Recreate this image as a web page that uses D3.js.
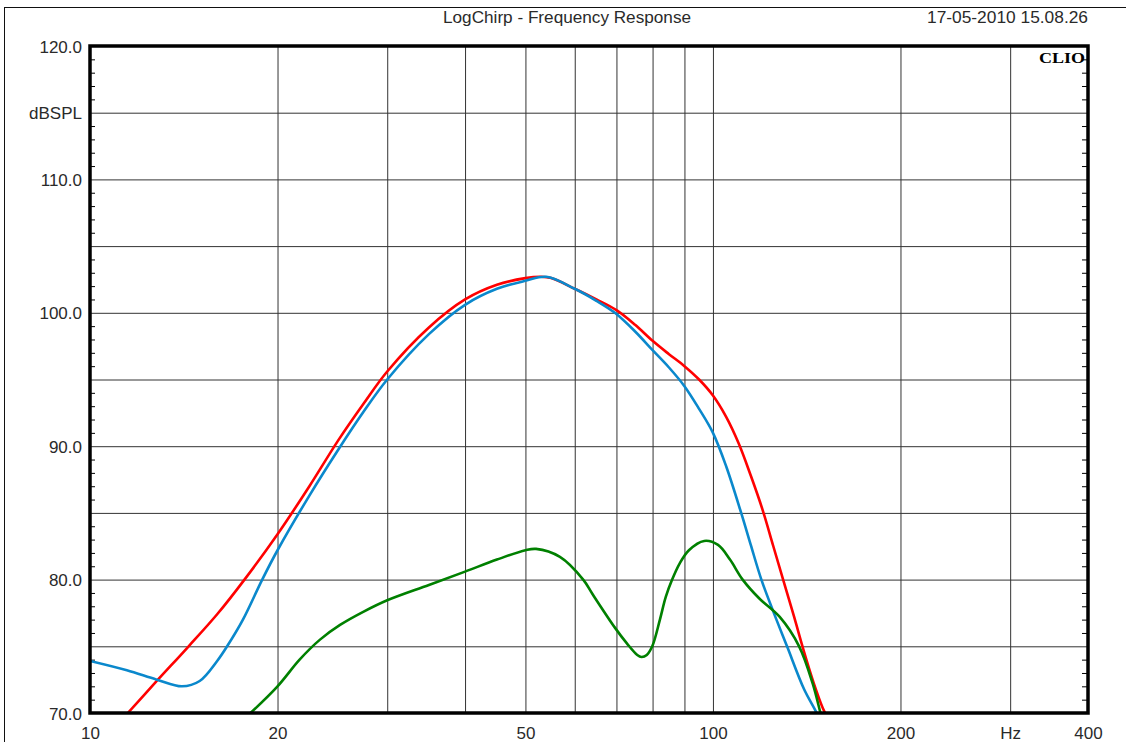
<!DOCTYPE html>
<html>
<head>
<meta charset="utf-8">
<script src="https://cdn.jsdelivr.net/npm/d3@7"></script>
<style>
  body { margin: 0; background: #fff; }
  svg { display: block; }
  text { font-family: "Liberation Sans", Arial, sans-serif; fill: #2a2a2a; }
  .grid line { stroke: #333; stroke-width: 1; }
  .grid path { display: none; }
  .minor line { stroke: #000; stroke-width: 1; }
  .minor path { display: none; }
  .curve { fill: none; stroke-width: 2.6; stroke-linejoin: round; }
</style>
</head>
<body>
<script>
// ---- data ----
var xTickLabels = ["10", "20", "50", "100", "200", "Hz", "400"];
var xTickFreqs  = [10, 20, 50, 100, 200, 300, 400];
var xGridFreqs  = [20, 30, 40, 50, 60, 70, 80, 90, 100, 200, 300];
var yTickValues = [120, 115, 110, 100, 90, 80, 70];
var yTickLabels = ["120.0", "dBSPL", "110.0", "100.0", "90.0", "80.0", "70.0"];

var redFreq = [11.5, 12.8, 14.4, 16, 17.7, 20, 22.5, 25, 27.5, 30, 35, 40, 45, 50, 53, 55, 60, 65, 70, 75, 80, 85, 90, 95, 100, 105, 110, 115, 120, 125, 130, 135, 140, 145, 150, 153];
var redDb   = [70, 72.4, 75.0, 77.4, 80, 83.4, 87, 90.4, 93.2, 95.6, 98.9, 101.0, 102.1, 102.6, 102.7, 102.6, 101.8, 101.0, 100.2, 99.1, 97.9, 96.9, 96.0, 95.0, 93.8, 92.2, 90.2, 87.8, 85.3, 82.5, 79.8, 77.2, 74.6, 72.3, 70.4, 69.6];

var blueFreq = [10, 11.46, 12.8, 14.05, 15, 16, 16.6, 17.6, 18.9, 20, 22.5, 25, 27.5, 30, 35, 40, 45, 50, 54, 60, 65, 69.6, 75, 80, 85, 90, 95, 100, 105, 111, 115, 119.6, 125, 131.5, 140, 146.7, 148];
var blueDb   = [73.9, 73.2, 72.5, 72.0, 72.4, 73.9, 75.0, 77.0, 80, 82.2, 86.3, 89.7, 92.6, 95.0, 98.4, 100.6, 101.8, 102.4, 102.7, 101.8, 100.9, 100.0, 98.6, 97.2, 95.9, 94.5, 92.8, 91.0, 88.5, 85, 82.6, 80, 77.6, 75, 71.8, 70, 69.5];

var greenFreq = [18.1, 20, 21.7, 23.4, 25.2, 27.5, 30, 35, 40, 45, 50, 52, 56.8, 61.9, 64.1, 69.6, 72.8, 75.6, 76.8, 78.3, 79.9, 82.2, 84, 86, 88.4, 91.5, 96.8, 101.9, 106.5, 111.6, 118.6, 128, 137.5, 144.6, 148.8, 150];
var greenDb   = [70, 72.0, 74.0, 75.5, 76.6, 77.6, 78.45, 79.6, 80.6, 81.5, 82.2, 82.3, 81.7, 80, 78.9, 76.4, 75.2, 74.35, 74.2, 74.35, 75, 77.0, 78.7, 80, 81.2, 82.2, 82.9, 82.6, 81.5, 80, 78.6, 77.2, 75, 72.2, 70, 69.4];

// drawn in this order: red underneath, blue, green on top
var series = [
  { freq: redFreq,   db: redDb,   color: "#ff0000" },
  { freq: blueFreq,  db: blueDb,  color: "#0a88cc" },
  { freq: greenFreq, db: greenDb, color: "#008000" }
];

// ---- layout ----
var W = 1126, H = 742;
var plotL = 90, plotR = 1088, plotT = 46, plotB = 713;

var x = d3.scaleLog().domain([10, 400]).range([plotL, plotR]);
var y = d3.scaleLinear().domain([70, 120]).range([plotB, plotT]);

var svg = d3.select("body").append("svg")
    .attr("width", W)
    .attr("height", H);

svg.append("rect").attr("width", W).attr("height", H).attr("fill", "#fff");

// outer page frame (top and left edges visible)
svg.append("line").attr("x1", 4).attr("x2", W).attr("y1", 7.5).attr("y2", 7.5)
    .attr("stroke", "#111").attr("stroke-width", 1);
svg.append("line").attr("x1", 4.5).attr("x2", 4.5).attr("y1", 7).attr("y2", H)
    .attr("stroke", "#111").attr("stroke-width", 1);

// header texts
svg.append("text").attr("x", 443).attr("y", 23)
    .attr("textLength", 248).attr("lengthAdjust", "spacingAndGlyphs")
    .style("font-size", "16px")
    .text("LogChirp - Frequency Response");
svg.append("text").attr("x", 927).attr("y", 23)
    .attr("textLength", 161).attr("lengthAdjust", "spacingAndGlyphs")
    .style("font-size", "16px")
    .text("17-05-2010 15.08.26");

// grid: vertical
svg.append("g")
    .attr("class", "grid")
    .attr("transform", "translate(0," + plotB + ")")
    .call(d3.axisBottom(x).tickValues(xGridFreqs).tickSize(-(plotB - plotT)).tickFormat(""));

// grid: horizontal every 5 dB
svg.append("g")
    .attr("class", "grid")
    .attr("transform", "translate(" + plotL + ",0)")
    .call(d3.axisLeft(y).tickValues(d3.range(75, 120, 5)).tickSize(-(plotR - plotL)).tickFormat(""));

// minor ticks on left and right axes (1 dB)
var minorVals = d3.range(71, 120).filter(function(v) { return v % 5 !== 0; });
svg.append("g")
    .attr("class", "minor")
    .attr("transform", "translate(" + plotL + ",0)")
    .call(d3.axisRight(y).tickValues(minorVals).tickSize(5).tickFormat(""));
svg.append("g")
    .attr("class", "minor")
    .attr("transform", "translate(" + plotR + ",0)")
    .call(d3.axisLeft(y).tickValues(minorVals).tickSize(6).tickFormat(""));

// curves, clipped to the plot area
svg.append("clipPath").attr("id", "plot-clip")
  .append("rect")
    .attr("x", plotL).attr("y", plotT)
    .attr("width", plotR - plotL).attr("height", plotB - plotT);

var line = d3.line()
    .x(function(d) { return x(d[0]); })
    .y(function(d) { return y(d[1]); })
    .curve(d3.curveCatmullRom.alpha(0.5));

svg.append("g").attr("clip-path", "url(#plot-clip)")
  .selectAll("path")
    .data(series)
  .enter().append("path")
    .attr("class", "curve")
    .attr("stroke", function(s) { return s.color; })
    .attr("d", function(s) { return line(d3.zip(s.freq, s.db)); });

// plot frame
svg.append("rect")
    .attr("x", plotL).attr("y", plotT)
    .attr("width", plotR - plotL).attr("height", plotB - plotT)
    .attr("fill", "none").attr("stroke", "#000").attr("stroke-width", 3.5);

// CLIO mark
svg.append("text").attr("x", 1085).attr("y", 63)
    .attr("text-anchor", "end")
    .attr("textLength", 46).attr("lengthAdjust", "spacingAndGlyphs")
    .style("font-family", "'Liberation Serif', 'DejaVu Serif', serif")
    .style("font-weight", "bold").style("font-size", "15px").style("fill", "#000")
    .text("CLIO");

// y labels
var yAxis = svg.append("g")
    .attr("transform", "translate(" + (plotL - 8) + ",0)")
    .call(d3.axisLeft(y).tickValues(yTickValues).tickSize(0)
      .tickFormat(function(d, i) { return yTickLabels[i]; }));
yAxis.select(".domain").remove();
yAxis.selectAll("text")
    .attr("x", 0).attr("dy", "0.36em")
    .style("font-family", "'Liberation Sans', Arial, sans-serif")
    .style("font-size", "17px").style("fill", "#2a2a2a");

// x labels
var xAxis = svg.append("g")
    .attr("transform", "translate(0," + plotB + ")")
    .call(d3.axisBottom(x).tickValues(xTickFreqs).tickSize(0)
      .tickFormat(function(d, i) { return xTickLabels[i]; }));
xAxis.select(".domain").remove();
xAxis.selectAll("text")
    .attr("y", 14).attr("dy", "0.71em")
    .style("font-family", "'Liberation Sans', Arial, sans-serif")
    .style("font-size", "17px").style("fill", "#2a2a2a");
</script>
</body>
</html>
